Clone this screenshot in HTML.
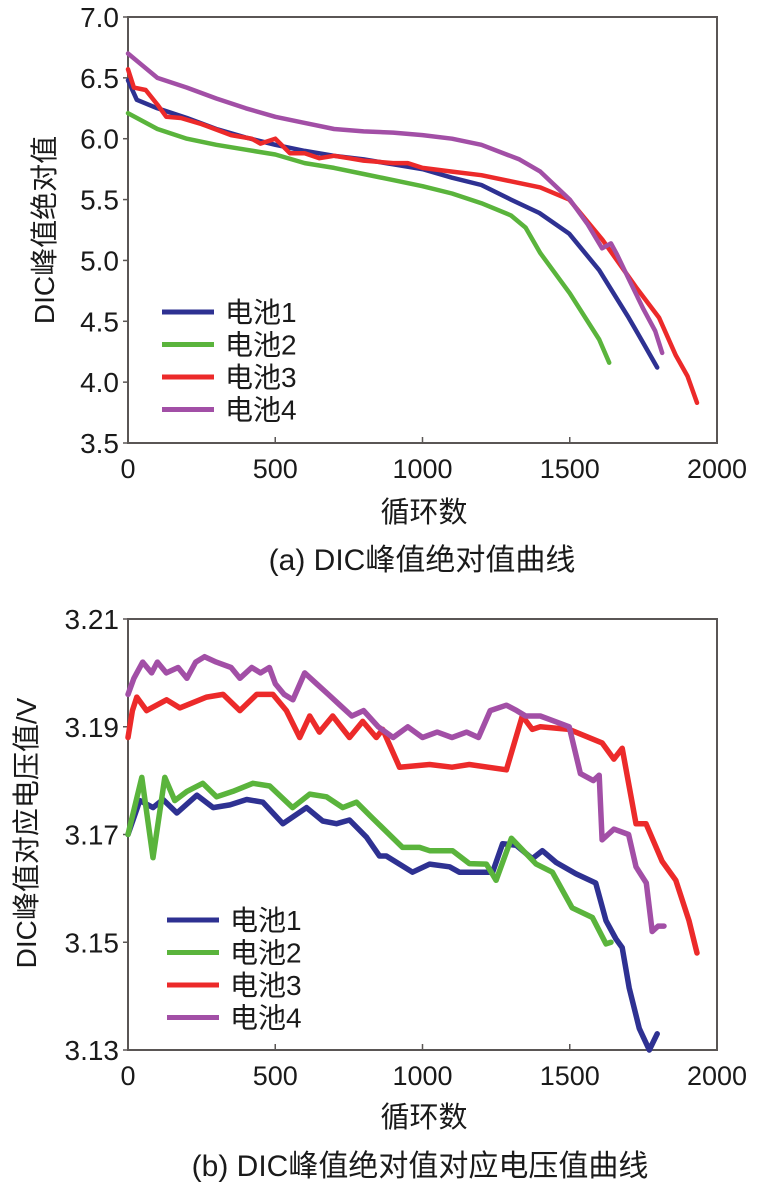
<!DOCTYPE html>
<html><head><meta charset="utf-8"><style>
html,body{margin:0;padding:0;background:#fff;}
svg{display:block;}
text{font-family:"Liberation Sans","Noto Sans CJK SC",sans-serif;fill:#1a1a1a;}
</style></head><body>
<svg id="svg" width="763" height="1191" viewBox="0 0 763 1191"></svg>
<script>
const xTicks=[0,500,1000,1500,2000];
const aYTicks=[3.5,4.0,4.5,5.0,5.5,6.0,6.5,7.0];
const aYLabels=["3.5","4.0","4.5","5.0","5.5","6.0","6.5","7.0"];
const bYTicks=[3.13,3.15,3.17,3.19,3.21];
const bYLabels=["3.13","3.15","3.17","3.19","3.21"];
const names=["电池1","电池2","电池3","电池4"];
const colors=["#2e3192","#5ab43c","#ec2a2a","#a24fa6"];

const aCycles1=[0,30,100,200,300,400,500,600,700,800,900,1000,1100,1200,1300,1397,1498,1600,1700,1750,1797];
const aVals1=[6.48,6.32,6.25,6.17,6.08,6.01,5.95,5.90,5.86,5.83,5.79,5.75,5.68,5.62,5.50,5.39,5.22,4.92,4.53,4.32,4.12];
const aCycles2=[0,100,200,300,400,500,600,700,800,900,1000,1100,1200,1300,1350,1400,1500,1600,1634];
const aVals2=[6.21,6.08,6.0,5.95,5.91,5.87,5.80,5.76,5.71,5.66,5.61,5.55,5.47,5.37,5.27,5.06,4.73,4.35,4.16];
const aCycles3=[0,20,60,100,130,180,250,350,420,450,500,550,600,650,700,750,800,900,950,1000,1100,1200,1300,1400,1498,1611,1725,1803,1860,1900,1932];
const aVals3=[6.57,6.42,6.40,6.28,6.18,6.17,6.12,6.03,6.00,5.96,6.0,5.88,5.88,5.84,5.86,5.84,5.82,5.80,5.80,5.76,5.73,5.70,5.65,5.60,5.50,5.17,4.78,4.53,4.22,4.05,3.83];
const aCycles4=[0,50,100,200,300,400,500,600,700,800,900,1000,1100,1200,1329,1400,1500,1560,1610,1640,1660,1700,1750,1790,1814];
const aVals4=[6.70,6.60,6.50,6.42,6.33,6.25,6.18,6.13,6.08,6.06,6.05,6.03,6.0,5.95,5.83,5.73,5.50,5.30,5.10,5.14,5.05,4.85,4.60,4.42,4.24];

const bCycles1=[0,40,85,119,166,234,289,346,403,458,526,606,661,708,752,810,854,877,966,1024,1092,1125,1217,1238,1272,1318,1373,1407,1454,1521,1588,1623,1657,1678,1702,1736,1770,1797];
const bVals1=[3.170,3.1763,3.175,3.1765,3.174,3.1773,3.175,3.1755,3.1765,3.176,3.172,3.175,3.1725,3.172,3.1727,3.1695,3.166,3.166,3.163,3.1645,3.164,3.163,3.163,3.163,3.1683,3.168,3.1655,3.167,3.1648,3.1627,3.161,3.154,3.1506,3.149,3.1415,3.134,3.130,3.133];
const bCycles2=[0,47,85,125,159,200,254,301,356,424,481,559,617,674,729,776,831,932,990,1024,1102,1159,1217,1250,1302,1386,1441,1508,1577,1623,1640];
const bVals2=[3.170,3.1806,3.1657,3.1806,3.1763,3.178,3.1795,3.177,3.178,3.1795,3.179,3.175,3.1775,3.177,3.175,3.176,3.173,3.1676,3.1676,3.167,3.167,3.1646,3.1645,3.1615,3.1693,3.1645,3.163,3.1564,3.1546,3.1497,3.150];
const bCycles3=[0,15,30,63,131,176,267,323,380,437,492,538,583,617,650,695,752,797,843,865,922,1024,1100,1159,1285,1339,1373,1400,1498,1610,1650,1678,1725,1759,1814,1860,1905,1932];
const bVals3=[3.188,3.193,3.1955,3.193,3.195,3.1935,3.1955,3.196,3.193,3.196,3.196,3.193,3.188,3.192,3.189,3.192,3.188,3.191,3.188,3.1895,3.1825,3.183,3.1825,3.183,3.182,3.192,3.1895,3.190,3.1895,3.187,3.184,3.186,3.172,3.172,3.165,3.1615,3.154,3.148];
const bCycles4=[0,20,50,80,100,130,170,200,230,260,300,350,380,420,450,480,500,530,560,600,640,680,720,760,800,850,900,950,1000,1050,1100,1150,1190,1230,1285,1320,1350,1400,1450,1498,1536,1580,1600,1610,1650,1700,1725,1760,1780,1800,1820];
const bVals4=[3.196,3.199,3.202,3.200,3.202,3.200,3.201,3.199,3.202,3.203,3.202,3.201,3.199,3.201,3.200,3.201,3.198,3.196,3.195,3.200,3.198,3.196,3.194,3.192,3.193,3.190,3.188,3.190,3.188,3.189,3.188,3.189,3.188,3.193,3.194,3.193,3.192,3.192,3.191,3.190,3.1813,3.180,3.181,3.169,3.171,3.170,3.164,3.161,3.152,3.153,3.153];

const NS="http://www.w3.org/2000/svg";
const svg=document.getElementById('svg');
function mk(tag,attrs,parent){const e=document.createElementNS(NS,tag);for(const k in attrs)e.setAttribute(k,attrs[k]);(parent||svg).appendChild(e);return e;}

function drawPanel(cfg){
  const g=mk('g',{});
  
  
  const L=128,R=717,T=cfg.top,B=cfg.bottom;
  const sx=v=>L+(v-0)/2000*(R-L);
  const sy=v=>B-(v-cfg.ymin)/(cfg.ymax-cfg.ymin)*(B-T);
  const frame=mk('rect',{x:L,y:T,width:R-L,height:B-T,fill:'none',stroke:'#5a5655','stroke-width':2},g);
  
  
  xTicks.forEach(t=>{
    mk('line',{x1:sx(t),x2:sx(t),y1:B,y2:B-6,stroke:'#5a5655','stroke-width':1.5},g);
    const tx=mk('text',{x:sx(t),y:B+35,'font-size':27,'text-anchor':'middle'},g);
    tx.textContent=String(t);
    
    
  });
  cfg.yticks.forEach((t,i)=>{
    mk('line',{x1:L,x2:L-5,y1:sy(t),y2:sy(t),stroke:'#5a5655','stroke-width':1.5},g);
    const tx=mk('text',{x:119,y:sy(t)+10,'font-size':28,'text-anchor':'end'},g);
    tx.textContent=cfg.ylabels[i];
    
    
  });
  cfg.series.forEach((s,i)=>{
    const pts=s[0].map((c,j)=>sx(c).toFixed(1)+','+sy(s[1][j]).toFixed(1)).join(' ');
    const pl=mk('polyline',{points:pts,fill:'none',stroke:colors[i],'stroke-width':cfg.sw,'stroke-linejoin':'round','stroke-linecap':'round'},g);
    
    
  });
  names.forEach((n,i)=>{
    const y=cfg.legY+i*cfg.legStep;
    const ln=mk('line',{x1:cfg.legX,x2:cfg.legX+52,y1:y,y2:y,stroke:colors[i],'stroke-width':5},g);
    
    
    const tx=mk('text',{x:cfg.legX+63,y:y+10,'font-size':28},g);
    tx.textContent=n;
    
    
  });
  const xt=mk('text',{x:424,y:cfg.xTitleY,'font-size':29,'text-anchor':'middle'},g);
  xt.textContent='循环数';
  
  
  const yt=mk('text',{x:0,y:0,'font-size':28,'text-anchor':'middle',transform:'translate('+cfg.yTitleX+','+cfg.yTitleY+') rotate(-90)'},g);
  yt.textContent=cfg.ytitle;
  
  
  const cp=mk('text',{x:cfg.capX,y:cfg.capY,'font-size':30,'text-anchor':'middle'},g);
  cp.textContent=cfg.caption;
  
  
}

drawPanel({id:'panel-a',top:17,bottom:443,ymin:3.5,ymax:7.0,yticks:aYTicks,ylabels:aYLabels,sw:4.5,
  series:[[aCycles1,aVals1],[aCycles2,aVals2],[aCycles3,aVals3],[aCycles4,aVals4]],
  legX:162,legY:312,legStep:32.5,xTitleY:522,yTitleX:54,yTitleY:230,ytitle:'DIC峰值绝对值',
  capX:422,capY:570,caption:'(a) DIC峰值绝对值曲线'});
drawPanel({id:'panel-b',top:619,bottom:1050,ymin:3.13,ymax:3.21,yticks:bYTicks,ylabels:bYLabels,sw:5.5,
  series:[[bCycles1,bVals1],[bCycles2,bVals2],[bCycles3,bVals3],[bCycles4,bVals4]],
  legX:167,legY:920,legStep:32.5,xTitleY:1127,yTitleX:36,yTitleY:833,ytitle:'DIC峰值对应电压值/V',
  capX:420,capY:1176,caption:'(b) DIC峰值绝对值对应电压值曲线'});
</script>
</body></html>
